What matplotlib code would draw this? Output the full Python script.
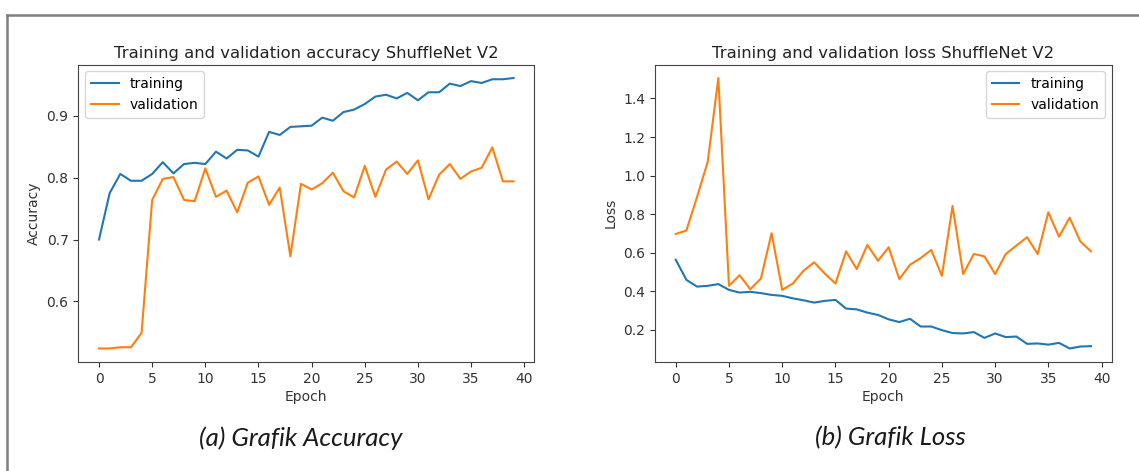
import matplotlib
matplotlib.use("Agg")
import matplotlib.pyplot as plt
from matplotlib.lines import Line2D
import numpy as np

epochs = list(range(40))

train_acc = [0.700, 0.775, 0.806, 0.795, 0.795, 0.806, 0.825, 0.807, 0.822, 0.824,
             0.822, 0.842, 0.831, 0.845, 0.844, 0.834, 0.874, 0.869, 0.882, 0.883,
             0.884, 0.897, 0.892, 0.906, 0.910, 0.919, 0.931, 0.934, 0.928, 0.937,
             0.925, 0.938, 0.938, 0.952, 0.948, 0.956, 0.953, 0.959, 0.959, 0.961]
val_acc = [0.524, 0.524, 0.526, 0.526, 0.549, 0.764, 0.798, 0.801, 0.764, 0.762,
           0.815, 0.769, 0.779, 0.744, 0.792, 0.802, 0.756, 0.784, 0.673, 0.790,
           0.781, 0.791, 0.808, 0.778, 0.768, 0.819, 0.769, 0.813, 0.826, 0.806,
           0.828, 0.765, 0.805, 0.822, 0.798, 0.810, 0.816, 0.849, 0.794, 0.794]

train_loss = [0.563, 0.459, 0.424, 0.428, 0.437, 0.407, 0.393, 0.397, 0.390, 0.381,
              0.376, 0.363, 0.353, 0.341, 0.350, 0.355, 0.310, 0.306, 0.289, 0.277,
              0.254, 0.240, 0.257, 0.217, 0.217, 0.198, 0.183, 0.181, 0.188, 0.158,
              0.181, 0.162, 0.165, 0.127, 0.129, 0.123, 0.132, 0.103, 0.113, 0.115]
val_loss = [0.697, 0.715, 0.889, 1.071, 1.506, 0.428, 0.483, 0.410, 0.466, 0.701,
            0.407, 0.440, 0.506, 0.550, 0.492, 0.440, 0.607, 0.515, 0.640, 0.558,
            0.628, 0.463, 0.537, 0.572, 0.614, 0.480, 0.842, 0.489, 0.593, 0.581,
            0.489, 0.593, 0.637, 0.680, 0.593, 0.810, 0.683, 0.781, 0.659, 0.607]

titles = ["Training and validation accuracy ShuffleNet V2",
          "Training and validation loss ShuffleNet V2"]
ylabels = ["Accuracy", "Loss"]
captions = ["(a) Grafik Accuracy", "(b) Grafik Loss"]
series_labels = ["training", "validation"]

W, H = 1139, 471
fig = plt.figure(figsize=(W / 100, H / 100), dpi=100)

def box(l, r, t, b):
    return [l / W, 1 - b / H, (r - l) / W, (b - t) / H]

ax1 = fig.add_axes(box(78.3, 534.3, 64.5, 362))
ax2 = fig.add_axes(box(655, 1111.7, 64.5, 362))

tick_fs = 10
for ax, tr, va, title, yl, loc in [
    (ax1, train_acc, val_acc, titles[0], ylabels[0], "upper left"),
    (ax2, train_loss, val_loss, titles[1], ylabels[1], "upper right"),
]:
    ax.plot(epochs, tr, color="#1f77b4", lw=1.5, label=series_labels[0])
    ax.plot(epochs, va, color="#ff7f0e", lw=1.5, label=series_labels[1])
    ax.set_title(title, fontsize=11.8, color="#222222", pad=5)
    ax.set_xlabel("Epoch", fontsize=10, color="#333333", labelpad=3)
    ax.set_ylabel(yl, fontsize=10, color="#333333")
    ax.set_xticks([0, 5, 10, 15, 20, 25, 30, 35, 40])
    ax.tick_params(labelsize=tick_fs, colors="#333333")
    for s in ax.spines.values():
        s.set_color("#444444")
    leg = ax.legend(loc=loc, fontsize=10)

ax1.set_yticks([0.6, 0.7, 0.8, 0.9])
ax2.set_yticks([0.2, 0.4, 0.6, 0.8, 1.0, 1.2, 1.4])

fig.text(301 / W, 1 - 438 / H, captions[0], fontsize=18.5, style="italic",
         family="Lato", ha="center", va="center", color="#1a1a1a")
fig.text(890 / W, 1 - 438 / H, captions[1], fontsize=18.5, style="italic",
         family="Lato", ha="center", va="center", color="#1a1a1a")

# surrounding frame (top and left)
fig.add_artist(Line2D([7 / W, 1.0], [1 - 15 / H, 1 - 15 / H],
                      transform=fig.transFigure, color="#7f7f7f", lw=1.8))
fig.add_artist(Line2D([7 / W, 7 / W], [0, 1 - 15 / H],
                      transform=fig.transFigure, color="#7f7f7f", lw=1.8))

fig.savefig("out.png", dpi=100)
